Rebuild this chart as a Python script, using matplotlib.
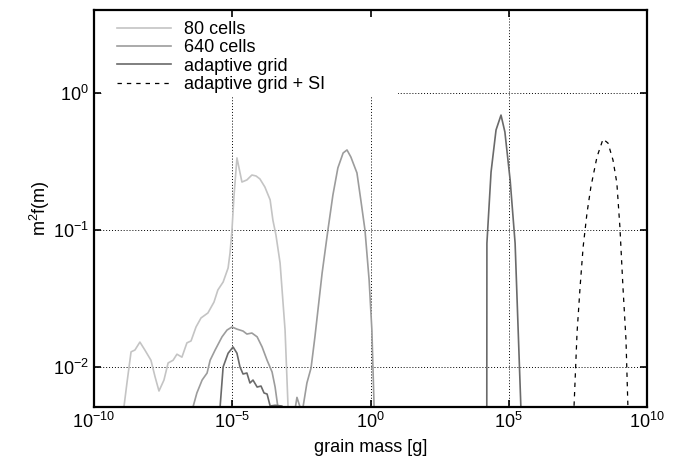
import numpy as np
import matplotlib
matplotlib.use("Agg")
import matplotlib.pyplot as plt
from matplotlib.ticker import NullLocator
from matplotlib.patches import Rectangle

plt.rcParams['font.family'] = ['Liberation Sans', 'DejaVu Sans']

# log10 of grain mass [g] and m^2 f(m)
# (values below the axis just mean the curve drops out of view)
lm_80 = [-9.17, -8.81, -8.66, -8.52, -8.34, -8.16, -7.94, -7.79, -7.65, -7.47,
         -7.32, -7.14, -7.00, -6.82, -6.64, -6.49, -6.31, -6.13, -5.88, -5.66,
         -5.52, -5.33, -5.15, -5.08, -5.01, -4.94, -4.83, -4.65, -4.47, -4.29,
         -4.14, -4.00, -3.82, -3.63, -3.53, -3.42, -3.27, -3.09, -2.98, -2.91]
f_80 = [0.002, 0.0076, 0.0129, 0.0133, 0.0152, 0.0133, 0.0112, 0.00845, 0.00668, 0.00803,
        0.0107, 0.0112, 0.0124, 0.0118, 0.0150, 0.0155, 0.0196, 0.0228, 0.0248, 0.0298,
        0.0365, 0.0417, 0.0528, 0.068, 0.100, 0.174, 0.336, 0.224, 0.232, 0.252,
        0.248, 0.236, 0.206, 0.166, 0.118, 0.092, 0.0574, 0.0186, 0.005, 0.0001]

lm_640 = [-6.60, -6.42, -6.28, -6.09, -5.91, -5.80, -5.62, -5.37, -5.19, -5.01,
          -4.83, -4.61, -4.47, -4.29, -4.10, -3.92, -3.74, -3.56, -3.45, -3.35,
          -3.24, -2.80, -2.73, -2.66, -2.52, -2.44, -2.30, -2.15, -2.01, -1.75,
          -1.54, -1.36, -1.18, -0.99, -0.85, -0.71, -0.49, -0.34, -0.20, -0.05,
          0.05, 0.13, 0.20]
f_640 = [0.001, 0.0051, 0.00646, 0.00803, 0.00904, 0.0112, 0.0133, 0.0166, 0.0186, 0.0196,
         0.0189, 0.0183, 0.0174, 0.0177, 0.0166, 0.0140, 0.0112, 0.0092, 0.00714, 0.0051,
         0.001, 0.001, 0.0049, 0.0060, 0.0049, 0.0051, 0.00764, 0.00984, 0.0166, 0.0485,
         0.100, 0.180, 0.284, 0.365, 0.384, 0.341, 0.261, 0.160, 0.100, 0.0432,
         0.0186, 0.0051, 0.0001]

lm_ad = [-5.55, -5.44, -5.33, -5.15, -4.97, -4.83, -4.72, -4.61, -4.47, -4.36,
         -4.25, -4.10, -3.96, -3.85, -3.74, -3.63, -3.45, -3.20, -3.13,
         4.19, 4.21, 4.36, 4.54, 4.72, 4.86, 5.05, 5.23, 5.44, 5.60]
f_ad = [0.001, 0.0051, 0.0100, 0.0126, 0.0140, 0.0126, 0.0100, 0.00889, 0.00904, 0.00764,
        0.00803, 0.00714, 0.00726, 0.00646, 0.00635, 0.00519, 0.00525, 0.00519, 0.001,
        1e-7, 0.080, 0.265, 0.537, 0.69, 0.52, 0.232, 0.080, 0.005, 1e-6]

lm_si = [7.29, 7.36, 7.47, 7.58, 7.69, 7.83, 7.97, 8.19, 8.41, 8.59,
         8.77, 8.91, 9.02, 9.13, 9.24, 9.31, 9.38]
f_si = [0.0001, 0.0051, 0.0178, 0.0384, 0.0751, 0.133, 0.206, 0.341, 0.461, 0.431,
        0.324, 0.220, 0.105, 0.0384, 0.0158, 0.0051, 0.0001]

labels = ["80 cells", "640 cells", "adaptive grid", "adaptive grid + SI"]

fig = plt.figure(figsize=(6.89, 4.61), dpi=100)
ax = fig.add_axes([94 / 689, 1 - 407 / 461, 553 / 689, 397 / 461])

ax.plot(10 ** np.array(lm_80), f_80, color="#c4c4c4", lw=1.2, label=labels[0])
ax.plot(10 ** np.array(lm_640), f_640, color="#9c9c9c", lw=1.2, label=labels[1])
ax.plot(10 ** np.array(lm_ad), f_ad, color="#6a6a6a", lw=1.2, label=labels[2])
ax.plot(10 ** np.array(lm_si), f_si, color="black", lw=0.9, dashes=(3.5, 4), label=labels[3])

ax.set_xscale("log")
ax.set_yscale("log")
ax.set_xlim(1e-10, 1e10)
ax.set_ylim(10 ** -2.292, 10 ** 0.606)
ax.set_xticks([1e-10, 1e-5, 1, 1e5, 1e10])
ax.set_yticks([1e-2, 1e-1, 1])
ax.xaxis.set_minor_locator(NullLocator())
ax.yaxis.set_minor_locator(NullLocator())
ax.tick_params(direction="in", top=True, right=True, length=5, width=1.2, labelsize=13)
for s in ax.spines.values():
    s.set_linewidth(1.6)
ax.set_axisbelow(False)

# dotted grid drawn by hand so the key box can sit over it but under the ticks
for xt in ax.get_xticks():
    ax.axvline(xt, color="black", linestyle=(0, (1, 2)), linewidth=0.7, zorder=1)
for yt in ax.get_yticks():
    ax.axhline(yt, color="black", linestyle=(0, (1, 2)), linewidth=0.7, zorder=1)

# opaque key background
ax.add_patch(Rectangle((9 / 553, 1 - 87 / 397), 295 / 553, 87 / 397, transform=ax.transAxes,
                       facecolor="white", edgecolor="none", zorder=1.5))

ax.set_xlabel("grain mass [g]", fontsize=13, labelpad=5)
ax.set_ylabel(r"m$^{\mathdefault{2}}$f(m)", fontsize=13, labelpad=1)

leg = ax.legend(loc="upper left", bbox_to_anchor=(0.022, 1.0), borderaxespad=0,
                borderpad=0.6, handlelength=3.0, handletextpad=0.72, labelspacing=0.08,
                fontsize=13, frameon=False)

fig.savefig("out.png", dpi=100)
